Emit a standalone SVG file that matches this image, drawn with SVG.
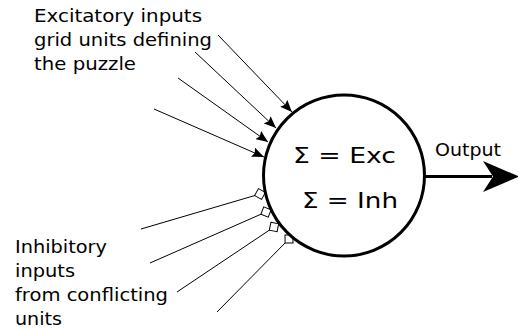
<svg xmlns="http://www.w3.org/2000/svg" width="518" height="330" viewBox="0 0 518 330">
<style>
text{font-family:"DejaVu Sans","Liberation Sans",sans-serif;fill:#000}
.lbl{font-size:18.5px}
.sum{font-size:22px}
.in{stroke:#000;stroke-width:1;fill:none}
</style>
<defs>
<marker id="arr" viewBox="0 0 12 10" refX="12" refY="5" markerWidth="12" markerHeight="10" markerUnits="userSpaceOnUse" orient="auto">
<path d="M0,0 L12,5 L0,10 L2,5 z" fill="#000"/>
</marker>
<marker id="sq" viewBox="-7 -7 14 14" refX="0" refY="0" markerWidth="14" markerHeight="14" markerUnits="userSpaceOnUse" orient="auto">
<path d="M0,-5.6 L5.6,0 L0,5.6 L-5.6,0 z" fill="#fff" stroke="#000" stroke-width="1"/>
</marker>
</defs>
<rect width="518" height="330" fill="#fff"/>
<g id="labels">
<text class="lbl" x="34" y="22" textLength="168" lengthAdjust="spacingAndGlyphs">Excitatory inputs</text>
<text class="lbl" x="34" y="46" textLength="178" lengthAdjust="spacingAndGlyphs">grid units defining</text>
<text class="lbl" x="34" y="70" textLength="102" lengthAdjust="spacingAndGlyphs">the puzzle</text>
<text class="lbl" x="15" y="253" textLength="92" lengthAdjust="spacingAndGlyphs">Inhibitory</text>
<text class="lbl" x="15" y="277" textLength="60" lengthAdjust="spacingAndGlyphs">inputs</text>
<text class="lbl" x="15" y="301" textLength="153" lengthAdjust="spacingAndGlyphs">from conflicting</text>
<text class="lbl" x="15" y="325" textLength="47" lengthAdjust="spacingAndGlyphs">units</text>
<text class="lbl" x="435" y="156" textLength="66" lengthAdjust="spacingAndGlyphs">Output</text>
</g>
<g id="connectors">
<line class="in" x1="218" y1="35" x2="292" y2="112" marker-end="url(#arr)"/>
<line class="in" x1="195" y1="52" x2="276" y2="128" marker-end="url(#arr)"/>
<line class="in" x1="178" y1="78" x2="268" y2="142" marker-end="url(#arr)"/>
<line class="in" x1="154" y1="109" x2="264" y2="157" marker-end="url(#arr)"/>
<line class="in" x1="141" y1="229" x2="260" y2="194" marker-end="url(#sq)"/>
<line class="in" x1="150" y1="263" x2="266" y2="212" marker-end="url(#sq)"/>
<line class="in" x1="177" y1="292" x2="274" y2="227" marker-end="url(#sq)"/>
<line class="in" x1="217" y1="312" x2="289" y2="239" marker-end="url(#sq)"/>
<line x1="424" y1="176.5" x2="492" y2="176.5" stroke="#000" stroke-width="3"/>
<path d="M519,176.5 L483,192 L493,176.5 L483,161 z" fill="#000"/>
</g>
<g id="neuron">
<circle cx="344" cy="175.5" r="80.5" fill="#fff" stroke="#000" stroke-width="3"/>
<text class="sum" x="293" y="163" textLength="103" lengthAdjust="spacingAndGlyphs">Σ = Exc</text>
<text class="sum" x="302" y="208" textLength="96" lengthAdjust="spacingAndGlyphs">Σ = Inh</text>
</g>
</svg>
